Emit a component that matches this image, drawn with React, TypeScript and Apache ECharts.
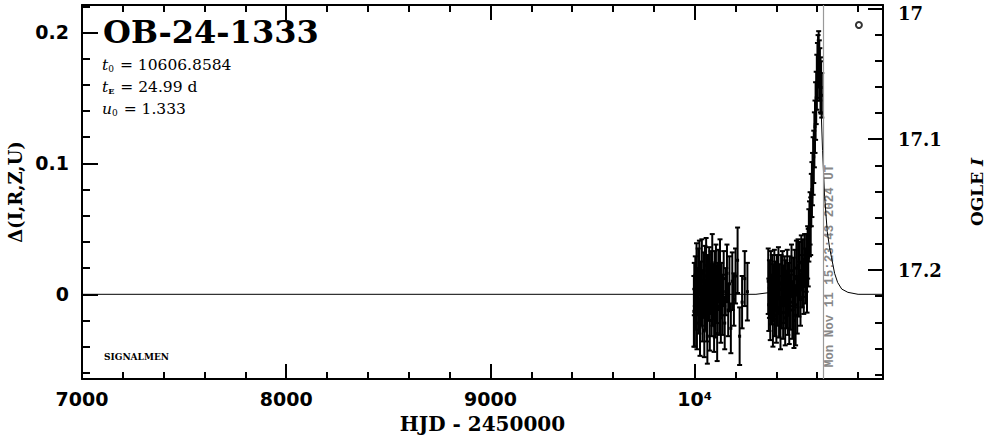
import React, { useEffect, useRef } from "react";
import * as echarts from "echarts";

// ---------------- data ----------------
const EVENT_NAME = "OB-24-1333";
const PARAM_T0 = "10606.8584";
const PARAM_TE = "24.99 d";
const PARAM_U0 = "1.333";
const NOW_LABEL = "Mon Nov 11 15:23:43 2024 UT";
const NOW_HJD = 10627;
const FOOTER = "SIGNALMEN";

const X_MIN = 7000;
const X_MAX = 10922;
const Y_MIN = -0.0647;
const Y_MAX = 0.221;
const MAG_TOP = 16.99748;
const MAG_BOTTOM = 17.2833;

const xMajorTicks = [7000, 8000, 9000, 10000];
const xMinorTicks = [7200, 7400, 7600, 7800, 8200, 8400, 8600, 8800, 9200, 9400, 9600, 9800, 10200, 10400, 10600, 10800];
const yMajorTicks = [0, 0.1, 0.2];
const yMinorTicks = [-0.06, -0.04, -0.02, 0.02, 0.04, 0.06, 0.08, 0.12, 0.14, 0.16, 0.18, 0.22];
const magMajorTicks = [17, 17.1, 17.2];
const magMinorTicks = [17.02, 17.04, 17.06, 17.08, 17.12, 17.14, 17.16, 17.18, 17.22, 17.24, 17.26, 17.28];

// [HJD-2450000, Δ, σ]
const season2023: number[][] = [
  [9996, -0.013, 0.027], [9998, 0.004, 0.02], [10001, -0.018, 0.022], [10003, 0.01, 0.019],
  [10006, -0.006, 0.021], [10009, 0.015, 0.024], [10011, -0.022, 0.02], [10014, 0.002, 0.018],
  [10017, 0.012, 0.023], [10020, -0.01, 0.02], [10023, 0.02, 0.021], [10026, -0.025, 0.022],
  [10029, 0.006, 0.019], [10032, -0.004, 0.02], [10035, 0.018, 0.024], [10038, -0.015, 0.021],
  [10041, 0.0, 0.018], [10044, 0.01, 0.022], [10047, -0.028, 0.02], [10050, 0.014, 0.023],
  [10053, -0.008, 0.019], [10056, 0.022, 0.021], [10059, -0.016, 0.02], [10062, -0.032, 0.021],
  [10065, 0.008, 0.022], [10068, -0.002, 0.018], [10071, 0.016, 0.02], [10074, -0.02, 0.023],
  [10077, 0.004, 0.019], [10080, 0.012, 0.021], [10083, -0.012, 0.02], [10086, 0.024, 0.022],
  [10089, -0.006, 0.018], [10092, 0.002, 0.021], [10095, -0.024, 0.02], [10098, 0.01, 0.023],
  [10101, -0.014, 0.019], [10104, 0.018, 0.02], [10107, 0.0, 0.022], [10110, -0.03, 0.021],
  [10113, 0.006, 0.018], [10116, 0.014, 0.02], [10120, -0.01, 0.021], [10124, 0.02, 0.022],
  [10128, -0.018, 0.019], [10132, 0.004, 0.02], [10137, -0.008, 0.023], [10142, 0.012, 0.021],
  [10147, -0.022, 0.02], [10152, 0.002, 0.018], [10158, 0.016, 0.022], [10164, -0.012, 0.02],
  [10170, 0.008, 0.021], [10177, -0.026, 0.019], [10184, 0.01, 0.022], [10192, -0.004, 0.02],
  [10200, 0.014, 0.021], [10210, 0.026, 0.025], [10220, -0.032, 0.022], [10232, -0.006, 0.02],
  [10245, 0.012, 0.021], [10258, 0.002, 0.022],
];

const season2024: number[][] = [
  [10360, 0.01, 0.025], [10363, -0.008, 0.02], [10366, 0.004, 0.022], [10370, -0.015, 0.02],
  [10373, 0.012, 0.021], [10376, -0.004, 0.019], [10380, 0.008, 0.022], [10383, -0.02, 0.02],
  [10386, 0.002, 0.021], [10390, 0.014, 0.02], [10393, -0.01, 0.022], [10396, 0.006, 0.019],
  [10400, -0.016, 0.021], [10403, 0.01, 0.02], [10406, -0.002, 0.022], [10410, 0.016, 0.02],
  [10413, -0.012, 0.021], [10416, 0.004, 0.019], [10420, -0.022, 0.02], [10423, 0.008, 0.022],
  [10426, -0.006, 0.02], [10430, 0.012, 0.021], [10433, -0.014, 0.02], [10436, 0.0, 0.022],
  [10440, 0.01, 0.019], [10443, -0.018, 0.021], [10446, 0.006, 0.02], [10450, -0.004, 0.022],
  [10453, 0.014, 0.02], [10456, -0.01, 0.021], [10460, 0.004, 0.02], [10463, -0.016, 0.022],
  [10466, 0.01, 0.019], [10470, -0.006, 0.021], [10474, 0.018, 0.02], [10478, -0.012, 0.022],
  [10482, 0.008, 0.02], [10486, -0.02, 0.021], [10490, 0.012, 0.022], [10494, -0.016, 0.023],
  [10498, 0.02, 0.021], [10502, -0.008, 0.022], [10506, 0.022, 0.02], [10510, 0.004, 0.021],
  [10514, 0.018, 0.022], [10518, -0.004, 0.02], [10522, 0.024, 0.021], [10526, 0.01, 0.02],
  [10530, 0.02, 0.022], [10534, 0.006, 0.021], [10538, 0.026, 0.02], [10542, 0.014, 0.021],
  [10546, 0.024, 0.022], [10550, 0.016, 0.03], [10553, 0.032, 0.02], [10556, 0.028, 0.022],
  [10559, 0.045, 0.02], [10562, 0.05, 0.021], [10565, 0.058, 0.02], [10568, 0.052, 0.022],
  [10571, 0.072, 0.02], [10574, 0.08, 0.021], [10577, 0.088, 0.02], [10580, 0.098, 0.022],
  [10583, 0.105, 0.02], [10586, 0.118, 0.021], [10589, 0.128, 0.02], [10592, 0.14, 0.022],
  [10595, 0.15, 0.02], [10598, 0.162, 0.021], [10601, 0.17, 0.022], [10604, 0.178, 0.02],
  [10607, 0.18, 0.021], [10610, 0.172, 0.022], [10613, 0.168, 0.02], [10616, 0.16, 0.021],
  [10619, 0.158, 0.02], [10622, 0.152, 0.017],
];

const modelHJD = [7000, 10300, 10400, 10450, 10500, 10530, 10550, 10565, 10578, 10588, 10597, 10603, 10607, 10611, 10617, 10626, 10636, 10649, 10660, 10670, 10685, 10700, 10720, 10750, 10800, 10922];
const modelDelta = [0, 0, 0.002, 0.005, 0.012, 0.022, 0.033, 0.05, 0.08, 0.112, 0.15, 0.172, 0.178, 0.172, 0.15, 0.11, 0.075, 0.048, 0.036, 0.028, 0.016, 0.009, 0.004, 0.0015, 0, 0];

const legendMarker = [10804, 0.2057];

// ---------------- chart ----------------
const SANS = "DejaVu Sans";
const SERIF = "DejaVu Serif";

const frameLine = { show: true, onZero: false, lineStyle: { color: "#000", width: 2 } };
const noLine = { show: false, onZero: false };
const tickStyle = { color: "#000", width: 2 };

function xAxisDef(position: string, values: number[], length: number, main: boolean, labels: boolean): any {
  return {
    type: "value",
    position,
    min: X_MIN,
    max: X_MAX,
    axisLine: main ? frameLine : noLine,
    axisTick: { show: true, inside: true, length, lineStyle: tickStyle, customValues: values },
    axisLabel: labels
      ? {
          show: true,
          customValues: values,
          formatter: (v: number) => (v === 10000 ? "10\u2074" : String(v)),
          margin: 10,
          fontFamily: SANS,
          fontWeight: "bold",
          fontSize: 19,
          color: "#000",
        }
      : { show: false },
    splitLine: { show: false },
  };
}

const magLabelFont = { fontFamily: SERIF, fontWeight: "bold", fontSize: 18, color: "#000" };

function yAxisDef(position: string, values: number[], length: number, main: boolean, labels: boolean, mag: boolean): any {
  return {
    type: "value",
    position,
    min: mag ? MAG_TOP : Y_MIN,
    max: mag ? MAG_BOTTOM : Y_MAX,
    inverse: mag,
    axisLine: main ? frameLine : noLine,
    axisTick: { show: true, inside: true, length, lineStyle: tickStyle, customValues: values },
    axisLabel: labels
      ? {
          show: true,
          customValues: values,
          formatter: (v: number) => {
            const s = String(Math.round(v * 1000) / 1000);
            if (mag) return v === values[0] ? `{top|${s}}` : `{m|${s}}`;
            return s;
          },
          margin: mag ? 15 : 13,
          fontFamily: mag ? SERIF : SANS,
          fontWeight: "bold",
          fontSize: mag ? 18 : 19,
          color: "#000",
          rich: mag
            ? {
                top: { ...magLabelFont, lineHeight: 16, padding: [10, 0, 0, 0] },
                m: { ...magLabelFont, lineHeight: 16 },
              }
            : undefined,
        }
      : { show: false },
    splitLine: { show: false },
  };
}

export default function App() {
  const ref = useRef<HTMLDivElement>(null);

  useEffect(() => {
    if (!ref.current) return;
    const chart = echarts.init(ref.current, undefined, { renderer: "svg" });

    const xMain = xAxisDef("bottom", xMajorTicks, 15, true, true);
    xMain.name = "HJD - 2450000";
    xMain.nameLocation = "middle";
    xMain.nameGap = 35;
    xMain.nameTextStyle = { fontFamily: SERIF, fontWeight: "bold", fontSize: 20, color: "#000" };

    const yMain = yAxisDef("left", yMajorTicks, 16, true, true, false);
    yMain.name = "\u0394(I,R,Z,U)";
    yMain.nameLocation = "middle";
    yMain.nameRotate = 90;
    yMain.nameGap = 58;
    yMain.nameTextStyle = { fontFamily: SERIF, fontWeight: "bold", fontSize: 18, color: "#000" };

    const magMain = yAxisDef("right", magMajorTicks, 15, true, true, true);
    magMain.name = "{n|OGLE }{i|I}";
    magMain.nameLocation = "middle";
    magMain.nameRotate = 90;
    magMain.nameGap = 85;
    magMain.nameTextStyle = {
      color: "#000",
      rich: {
        n: { fontFamily: SERIF, fontWeight: "bold", fontSize: 17, color: "#000" },
        i: { fontFamily: SERIF, fontStyle: "italic", fontWeight: "bold", fontSize: 17, color: "#000" },
      },
    };

    const errorBarSeries = (name: string, data: number[][]) => ({
      name,
      type: "custom",
      xAxisIndex: 0,
      yAxisIndex: 0,
      data,
      encode: { x: 0, y: 1 },
      z: 3,
      renderItem: (_p: any, api: any) => {
        const t = api.value(0);
        const d = api.value(1);
        const e = api.value(2);
        const lo = api.coord([t, d - e]);
        const hi = api.coord([t, d + e]);
        const c = api.coord([t, d]);
        const st = { stroke: "#000", lineWidth: 2 };
        const w = 2.5;
        return {
          type: "group",
          children: [
            { type: "line", shape: { x1: lo[0], y1: lo[1], x2: hi[0], y2: hi[1] }, style: st },
            { type: "line", shape: { x1: lo[0] - w, y1: lo[1], x2: lo[0] + w, y2: lo[1] }, style: st },
            { type: "line", shape: { x1: hi[0] - w, y1: hi[1], x2: hi[0] + w, y2: hi[1] }, style: st },
            { type: "rect", shape: { x: c[0] - 1.5, y: c[1] - 1.5, width: 3, height: 3 }, style: { fill: "#000" } },
          ],
        };
      },
    });

    const option: any = {
      animation: false,
      backgroundColor: "#fff",
      grid: { left: 82, right: 103, top: 5, bottom: 57, containLabel: false, outerBoundsMode: "none" },
      xAxis: [
        xMain,
        xAxisDef("bottom", xMinorTicks, 7, false, false),
        xAxisDef("top", xMajorTicks, 15, true, false),
        xAxisDef("top", xMinorTicks, 7, false, false),
      ],
      yAxis: [
        yMain,
        yAxisDef("left", yMinorTicks, 8, false, false, false),
        magMain,
        yAxisDef("right", magMinorTicks, 8, false, false, true),
      ],
      series: [
        {
          name: "model",
          type: "line",
          xAxisIndex: 0,
          yAxisIndex: 0,
          data: modelHJD.map((t, i) => [t, modelDelta[i]]),
          symbol: "none",
          lineStyle: { color: "#000", width: 1 },
          z: 2,
          markLine: {
            silent: true,
            symbol: "none",
            label: { show: false },
            lineStyle: { color: "#999", width: 1.2, type: "solid" },
            data: [{ xAxis: NOW_HJD }],
          },
        },
        errorBarSeries("OGLE 2023", season2023),
        errorBarSeries("OGLE 2024", season2024),
        {
          name: "marker",
          type: "scatter",
          xAxisIndex: 0,
          yAxisIndex: 0,
          data: [legendMarker],
          symbol: "circle",
          symbolSize: 6,
          itemStyle: { color: "#fff", borderColor: "#000", borderWidth: 2 },
          z: 4,
        },
      ],
    };
    chart.setOption(option);

    const nowX = chart.convertToPixel({ xAxisIndex: 0 }, NOW_HJD) as number;
    const paramFont = { fontFamily: SERIF, fontSize: 15.5, fill: "#000" };
    const richParams = {
      i: { fontFamily: SERIF, fontStyle: "italic", fontSize: 15.5, color: "#000" },
      s: { fontFamily: SERIF, fontSize: 9, color: "#000", verticalAlign: "bottom", padding: [7, 1, 0, 0] },
      sb: { fontFamily: SERIF, fontSize: 8, fontWeight: "bold", color: "#000", verticalAlign: "bottom", padding: [7, 1, 0, 0] },
    };
    chart.setOption({
      graphic: [
        {
          type: "text",
          x: 103,
          y: 32,
          style: { text: EVENT_NAME, fontFamily: SERIF, fontWeight: "bold", fontSize: 32, fill: "#000", verticalAlign: "middle" },
        },
        {
          type: "text",
          x: 102,
          y: 65,
          style: { ...paramFont, text: `{i|t}{s|0} = ${PARAM_T0}`, rich: richParams, verticalAlign: "middle" },
        },
        {
          type: "text",
          x: 102,
          y: 87,
          style: { ...paramFont, text: `{i|t}{sb|E} = ${PARAM_TE}`, rich: richParams, verticalAlign: "middle" },
        },
        {
          type: "text",
          x: 102,
          y: 109,
          style: { ...paramFont, text: `{i|u}{s|0} = ${PARAM_U0}`, rich: richParams, verticalAlign: "middle" },
        },
        {
          type: "text",
          x: 104,
          y: 357,
          style: { text: FOOTER, fontFamily: SERIF, fontWeight: "bold", fontSize: 9, fill: "#000", verticalAlign: "middle" },
        },
        {
          type: "text",
          x: nowX + 7,
          y: 266,
          rotation: Math.PI / 2,
          style: {
            text: NOW_LABEL,
            fontFamily: "Liberation Mono",
            fontWeight: "bold",
            fontSize: 12.5,
            fill: "#888888",
            align: "center",
            verticalAlign: "middle",
          },
        },
      ],
    });

    return () => chart.dispose();
  }, []);

  return <div ref={ref} style={{ position: "absolute", left: 0, top: 0, width: 986, height: 436 }} />;
}
